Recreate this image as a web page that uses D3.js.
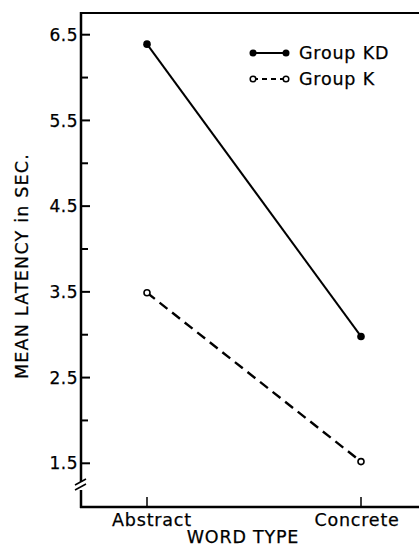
<!DOCTYPE html>
<html>
<head>
<meta charset="utf-8">
<script src="https://cdn.jsdelivr.net/npm/d3@7"></script>
<style>
  body { margin: 0; background: #fff; }
  svg { display: block; font-family: "DejaVu Sans", sans-serif; }
  text { stroke: #000; stroke-width: 0.25px; }
</style>
</head>
<body>
<div id="chart"></div>
<script>
(function() {

    const wordTypes = ["Abstract", "Concrete"];
    const groupKD = [6.39, 2.98];
    const groupK = [3.49, 1.52];
    const majorTicks = [1.5, 2.5, 3.5, 4.5, 5.5, 6.5];
    const minorTicks = [4.0, 5.0, 6.0, 3.0, 2.0];

    const width = 419;
    const height = 554;
    const axisX = 81, axisY = 507, topY = 13;

    const svg = d3.select("#chart").append("svg")
        .attr("width", width)
        .attr("height", height);

    const x = d3.scalePoint()
        .domain(wordTypes)
        .range([147, 361]);

    const y = d3.scaleLinear()
        .domain([1.5, 6.5])
        .range([463.3, 34.7]);

    // frame: top line, left axis, bottom axis
    svg.append("line")
        .attr("x1", axisX).attr("x2", width)
        .attr("y1", topY).attr("y2", topY)
        .attr("stroke", "#000").attr("stroke-width", 2);

    svg.append("line")
        .attr("x1", axisX).attr("x2", axisX)
        .attr("y1", topY - 1).attr("y2", 482)
        .attr("stroke", "#000").attr("stroke-width", 2.5);
    svg.append("line")
        .attr("x1", axisX).attr("x2", axisX)
        .attr("y1", 490).attr("y2", axisY + 1)
        .attr("stroke", "#000").attr("stroke-width", 2.5);
    // axis break
    [0, 5].forEach(off => {
        svg.append("line")
            .attr("x1", axisX - 6).attr("y1", 485 + off)
            .attr("x2", axisX + 5).attr("y2", 479 + off)
            .attr("stroke", "#000").attr("stroke-width", 1.5);
    });

    svg.append("line")
        .attr("x1", axisX - 1).attr("x2", width)
        .attr("y1", axisY).attr("y2", axisY)
        .attr("stroke", "#000").attr("stroke-width", 2.5);

    // y ticks
    svg.append("g").selectAll("line")
        .data(majorTicks)
        .join("line")
        .attr("x1", axisX).attr("x2", axisX + 9)
        .attr("y1", d => y(d)).attr("y2", d => y(d))
        .attr("stroke", "#000").attr("stroke-width", 2);

    svg.append("g").selectAll("line")
        .data(minorTicks)
        .join("line")
        .attr("x1", axisX).attr("x2", axisX + 7)
        .attr("y1", d => y(d)).attr("y2", d => y(d))
        .attr("stroke", "#000").attr("stroke-width", 2);

    svg.append("g").selectAll("text")
        .data(majorTicks)
        .join("text")
        .attr("x", axisX - 3)
        .attr("y", d => y(d))
        .attr("dy", "0.36em")
        .attr("text-anchor", "end")
        .attr("font-size", "17px")
        .attr("letter-spacing", "0.5px")
        .text(d => d.toFixed(1));

    // x ticks
    svg.append("g").selectAll("line")
        .data(wordTypes)
        .join("line")
        .attr("x1", d => x(d)).attr("x2", d => x(d))
        .attr("y1", axisY).attr("y2", axisY - 10)
        .attr("stroke", "#000").attr("stroke-width", 1.5);

    svg.append("g").selectAll("text")
        .data(wordTypes)
        .join("text")
        .attr("x", (d, i) => x(d) + (i === 0 ? 5 : -4))
        .attr("y", 526)
        .attr("text-anchor", "middle")
        .attr("font-size", "17.5px")
        .attr("letter-spacing", "0.8px")
        .text(d => d);

    // axis titles
    svg.append("text")
        .attr("x", 243)
        .attr("y", 543)
        .attr("text-anchor", "middle")
        .attr("font-size", "17.5px")
        .attr("letter-spacing", "0.8px")
        .text("WORD TYPE");

    svg.append("text")
        .attr("transform", "translate(28,266) rotate(-90)")
        .attr("text-anchor", "middle")
        .attr("font-size", "17.5px")
        .attr("letter-spacing", "1.2px")
        .text("MEAN LATENCY in SEC.");

    // series
    const line = d3.line()
        .x((d, i) => x(wordTypes[i]))
        .y(d => y(d));

    svg.append("path")
        .datum(groupKD)
        .attr("d", line)
        .attr("fill", "none")
        .attr("stroke", "#000")
        .attr("stroke-width", 2);

    svg.append("path")
        .datum(groupK)
        .attr("d", line)
        .attr("fill", "none")
        .attr("stroke", "#000")
        .attr("stroke-width", 2.4)
        .attr("stroke-dasharray", "10,6");

    svg.append("g").selectAll("circle")
        .data(groupKD)
        .join("circle")
        .attr("cx", (d, i) => x(wordTypes[i]))
        .attr("cy", d => y(d))
        .attr("r", 3.8)
        .attr("fill", "#000");

    svg.append("g").selectAll("circle")
        .data(groupK)
        .join("circle")
        .attr("cx", (d, i) => x(wordTypes[i]))
        .attr("cy", d => y(d))
        .attr("r", 3)
        .attr("fill", "#fff")
        .attr("stroke", "#000")
        .attr("stroke-width", 1.6);

    // legend
    const legend = svg.append("g");
    legend.append("line")
        .attr("x1", 253).attr("x2", 286)
        .attr("y1", 53).attr("y2", 53)
        .attr("stroke", "#000").attr("stroke-width", 2);
    [253, 286].forEach(cx => legend.append("circle")
        .attr("cx", cx).attr("cy", 53).attr("r", 3.5).attr("fill", "#000"));
    legend.append("line")
        .attr("x1", 253).attr("x2", 286)
        .attr("y1", 79).attr("y2", 79)
        .attr("stroke", "#000").attr("stroke-width", 2)
        .attr("stroke-dasharray", "5,4");
    [253, 286].forEach(cx => legend.append("circle")
        .attr("cx", cx).attr("cy", 79).attr("r", 2.8)
        .attr("fill", "#fff").attr("stroke", "#000").attr("stroke-width", 1.5));
    legend.append("text")
        .attr("x", 299).attr("y", 59)
        .attr("font-size", "17.5px")
        .attr("letter-spacing", "0.8px")
        .text("Group KD");
    legend.append("text")
        .attr("x", 299).attr("y", 85)
        .attr("font-size", "17.5px")
        .attr("letter-spacing", "0.8px")
        .text("Group K");

})();
</script>
</body>
</html>
